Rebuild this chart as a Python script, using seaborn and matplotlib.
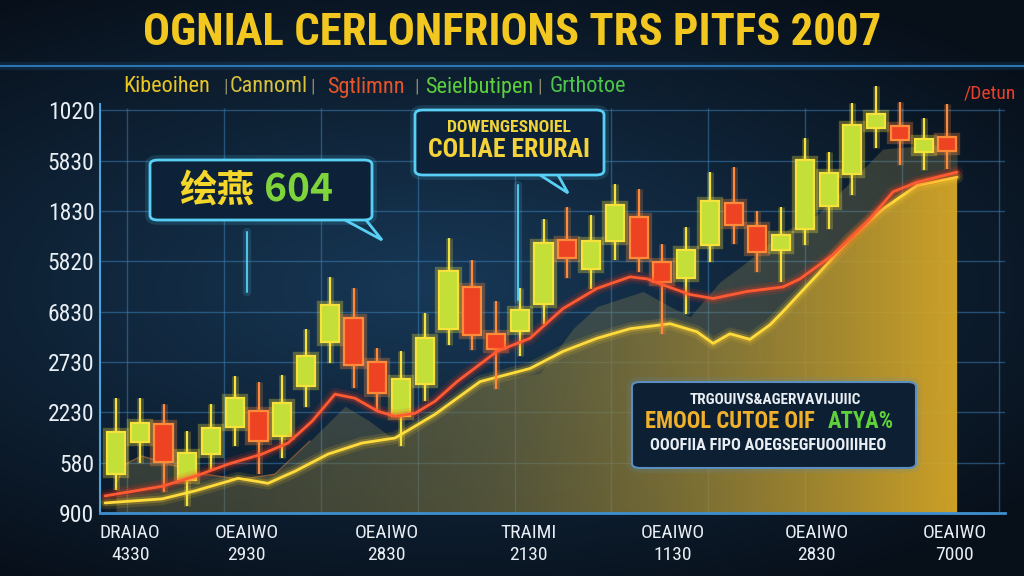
import numpy as np
import pandas as pd
import matplotlib
matplotlib.use("Agg")
import matplotlib.pyplot as plt
import seaborn as sns
from matplotlib import font_manager
from matplotlib.patches import FancyBboxPatch, Polygon
from matplotlib.colors import LinearSegmentedColormap

# candle values (open, high, low, close), one per session
opens  = [77, 141, 176, 65, 117, 170, 202, 152, 253, 339, 388, 299, 192, 257, 366, 449, 356, 362,
          416, 543, 485, 541, 588, 499, 467, 533, 616, 570, 523, 564, 610, 673, 764, 768, 717, 746]
highs  = [228, 228, 216, 162, 216, 273, 261, 275, 366, 469, 446, 327, 321, 398, 546, 503, 422, 446,
          584, 608, 592, 653, 644, 535, 568, 677, 687, 600, 608, 744, 717, 814, 849, 816, 784, 812]
lows   = [46, 99, 42, 14, 85, 133, 77, 109, 210, 297, 248, 202, 133, 222, 333, 323, 246, 311,
          376, 467, 444, 503, 479, 356, 396, 499, 535, 479, 459, 533, 564, 632, 725, 691, 681, 683]
closes = [160, 178, 101, 119, 168, 228, 143, 218, 311, 414, 293, 238, 267, 347, 481, 354, 325, 404,
          537, 507, 541, 612, 507, 459, 523, 620, 572, 519, 552, 701, 675, 770, 792, 741, 743, 719]

# red moving average
ma_x = [-0.46, 1.94, 3.33, 4.72, 6.15, 7.24, 8.25, 9.22, 10.06, 11.03, 11.75, 12.59, 13.43, 14.36,
        16.04, 17.43, 18.82, 20.25, 21.64, 22.36, 23.03, 24.17, 25.14, 26.57, 28.08, 28.8, 30.19,
        31.62, 32.72, 33.73, 35.41]
ma_y = [34, 53, 73, 97, 117, 139, 182, 236, 228, 202, 192, 198, 222, 261, 321, 347, 406, 446, 469,
        465, 453, 434, 426, 440, 449, 465, 513, 578, 638, 657, 677]

# yellow line with golden area
gold_x = [-0.46, 1.94, 3.33, 4.72, 5.14, 6.4, 7.54, 8.93, 10.36, 11.75, 13.43, 15.33, 17.43, 18.82,
          20.25, 21.64, 23.33, 24.46, 25.14, 25.85, 26.69, 27.54, 28.08, 29.52, 30.91, 32.29, 33.73,
          35.41]
gold_y = [20, 28, 44, 63, 69, 59, 83, 117, 139, 149, 196, 261, 287, 321, 347, 366, 376, 360, 337,
          356, 345, 374, 400, 473, 545, 604, 651, 667]

# darker shadow area behind
shade_x = [0, 0.46, 1.09, 2.27, 3.45, 5.22, 6.69, 8.17, 9.64, 10.69, 11.62, 13.43, 15.33, 17.85,
           19.24, 20.25, 22.19, 23.33, 24.17, 25.43, 26.57, 28.08, 29.52, 30.91, 32.29, 34.4, 35.41]
shade_y = [59, 99, 113, 97, 79, 67, 77, 143, 212, 182, 149, 196, 261, 277, 366, 410, 440, 410, 390,
           459, 499, 558, 592, 657, 723, 731, 727]

y_ticks = [0, 100, 200, 300, 400, 500, 600, 700, 800]
y_labels = ["900", "580", "2230", "2730", "6830", "5820", "1830", "5830", "1020"]
x_ticks = [0.6, 5.5, 11.4, 17.35, 23.45, 29.5, 35.3]
x_labels = ["DRAIAO\n4330", "OEAIWO\n2930", "OEAIWO\n2830", "TRAIMI\n2130",
            "OEAIWO\n1130", "OEAIWO\n2830", "OEAIWO\n7000"]
legend_names = ["Kibeoihen", "Cannoml", "Sgtlimnn", "Seielbutipen", "Grthotoe"]
legend_colors = ["#e9c623", "#d8c13c", "#e8552a", "#5ccf3b", "#4cc64a"]

title = "OGNIAL CERLONFRIONS TRS PITFS 2007"

sns.set_theme(style="dark")
installed = {f.name for f in font_manager.fontManager.ttflist}
narrow = next((f for f in ["Liberation Sans Narrow", "Roboto Condensed", "Open Sans Condensed"]
               if f in installed), "DejaVu Sans")
plt.rcParams["font.family"] = [narrow, "DejaVu Sans"]
plt.rcParams["font.stretch"] = "condensed"
CJK = ["Noto Sans CJK SC", "DejaVu Sans"]

W, H = 1024, 576
fig = plt.figure(figsize=(10.24, 5.76), dpi=100)
renderer = fig.canvas.get_renderer()


def fx(px):
    return px / W


def fy(py):
    return 1 - py / H


def fit(t, width_px):
    # shrink/grow a text so it spans the wanted pixel width
    w = t.get_window_extent(renderer).width
    t.set_fontsize(t.get_fontsize() * width_px / w)
    return t


# background glow
bg = fig.add_axes([0, 0, 1, 1], zorder=-10)
yy, xx = np.mgrid[0:1:288j, 0:1:512j]
d = np.sqrt(((xx - 0.42) / 1.0) ** 2 + ((yy - 0.5) / 0.8) ** 2)
d = np.clip(d / 0.75, 0, 1)
c_in = np.array([0.09, 0.22, 0.34])
c_out = np.array([0.03, 0.06, 0.10])
img = c_in[None, None, :] * (1 - d[..., None]) + c_out[None, None, :] * d[..., None]
bg.imshow(img, aspect="auto", extent=[0, 1, 0, 1])
bg.axis("off")

ax = fig.add_axes([fx(100), fy(513), fx(1005) - fx(100), fy(80) - fy(513)])
ax.set_facecolor("none")

# shadow area
ax.fill_between(shade_x, shade_y, 0, color="#8b8250", alpha=0.33, lw=0, zorder=1)
ax.plot(shade_x[:8], shade_y[:8], color="#c8783a", lw=1, alpha=0.6, zorder=1)

# golden gradient area under the yellow line
poly = ax.fill_between(gold_x, gold_y, 0, color="none", lw=0)
gcmap = LinearSegmentedColormap.from_list(
    "gold", [(0.0, (0.30, 0.30, 0.18, 0.10)), (0.45, (0.45, 0.42, 0.22, 0.45)),
             (0.7, (0.62, 0.53, 0.20, 0.70)), (1.0, (0.86, 0.67, 0.15, 0.92))])
grad = ax.imshow(np.linspace(0, 1, 256)[None, :], cmap=gcmap, aspect="auto",
                 extent=[-0.5, 35.5, 0, 700], origin="lower", zorder=2)
grad.set_clip_path(poly.get_paths()[0], transform=ax.transData)

# grid
grid_x = np.arange(0.46, 37.5, 4.08)
ax.vlines(grid_x, 0, 805, color="#3a7cb0", lw=1, alpha=0.55, zorder=0)
ax.grid(True, axis="y", color="#3a7cb0", lw=1, alpha=0.55)
ax.set_axisbelow(True)

# candles
df = pd.DataFrame({"open": opens, "high": highs, "low": lows, "close": closes})
df["idx"] = np.arange(len(df))
df["up"] = df["close"] >= df["open"]
fill = np.where(df["up"], "#c3df38", "#ee4322")
edge = np.where(df["up"], "#f6e23a", "#ff8a3a")
bottom = df[["open", "close"]].min(axis=1)
height = (df["close"] - df["open"]).abs()

ax.vlines(df["idx"], df["low"], df["high"], colors=edge, lw=5, alpha=0.22, zorder=4)
ax.vlines(df["idx"], df["low"], df["high"], colors=edge, lw=1.6, zorder=5)
ax.bar(df["idx"], height, bottom=bottom, width=0.76, color="none", edgecolor=edge,
       linewidth=6, alpha=0.3, zorder=5)
ax.bar(df["idx"], height, bottom=bottom, width=0.76, color=fill, edgecolor=edge,
       linewidth=1.6, zorder=6)

# lines with glow
for w, a in [(9, 0.12), (5, 0.25)]:
    ax.plot(gold_x, gold_y, color="#ffcf2a", lw=w, alpha=a, zorder=3, solid_capstyle="round")
    ax.plot(ma_x, ma_y, color="#ff3a1c", lw=w, alpha=a, zorder=7, solid_capstyle="round")
sns.lineplot(x=gold_x, y=gold_y, ax=ax, color="#ffdc3c", lw=2, zorder=3, sort=False)
sns.lineplot(x=ma_x, y=ma_y, ax=ax, color="#ff5a32", lw=2, zorder=7, sort=False)

# axes styling
ax.set_xlim(-0.674, 37.43)
ax.set_ylim(0, 860)
ax.set_xlabel("")
ax.set_ylabel("")
ax.set_yticks(y_ticks, y_labels)
ax.set_xticks(x_ticks, x_labels)
ax.tick_params(axis="y", length=0, pad=4, labelcolor="#e8eef4", labelsize=17)
ax.tick_params(axis="x", direction="in", length=14, width=1, color="#4a9fd8", pad=8,
               labelcolor="#e8eef4", labelsize=14)
for lab in ax.get_xticklabels():
    lab.set_linespacing(1.25)
for s in ["top", "right"]:
    ax.spines[s].set_visible(False)
ax.spines["left"].set_color("#4aa3dc")
ax.spines["left"].set_linewidth(1.5)
ax.spines["left"].set_bounds(0, 812)
ax.spines["bottom"].set_color("#3d8fd0")
ax.spines["bottom"].set_linewidth(2)

# title and separator
t = fig.text(0.5, fy(33), title, ha="center", va="center", color="#f2c71f", fontsize=30,
             fontweight="bold")
fit(t, 737)
for w, a in [(6, 0.15), (1.5, 0.9)]:
    fig.add_artist(plt.Line2D([0, 1], [fy(66), fy(66)], color="#2f7fc0", lw=w, alpha=a))

# series names row
name_span = [(118, 215), (237, 300), (326, 405), (428, 530), (550, 625)]
for i, (nm, col) in enumerate(zip(legend_names, legend_colors)):
    x0, x1 = name_span[i]
    fig.text(fx((x0 + x1) / 2), fy(87), nm, ha="center", va="center", color=col,
             fontsize=16)
    if i < len(legend_names) - 1:
        fig.text(fx((x1 + name_span[i + 1][0]) / 2), fy(87), "|", ha="center",
                 va="center", color="#8a8a6a", fontsize=14)
fig.text(fx(990), fy(94), "/Detun", ha="center", va="center", color="#e8402a", fontsize=14)


def callout(x0, y0, x1, y1, tail=None, ec="#58d0f5", fc=(0.05, 0.13, 0.22, 0.75), lw=2):
    for w, a in [(7, 0.15), (lw, 1)]:
        fig.add_artist(FancyBboxPatch((fx(x0), fy(y1)), fx(x1) - fx(x0), fy(y0) - fy(y1),
                                      boxstyle="round,pad=0,rounding_size=0.008",
                                      transform=fig.transFigure, ec=ec, lw=w, alpha=a,
                                      fc=fc if a == 1 else "none", zorder=20))
    if tail is not None:
        pts = [(fx(px), fy(py)) for px, py in tail]
        fig.add_artist(Polygon(pts, closed=False, transform=fig.transFigure, fill=False,
                               ec=ec, lw=lw, zorder=21))


def glow_vline(px, py0, py1):
    for w, a in [(6, 0.15), (1.5, 0.9)]:
        fig.add_artist(plt.Line2D([fx(px), fx(px)], [fy(py0), fy(py1)], color="#58d0f5",
                                  lw=w, alpha=a, zorder=19))


# callout 1
glow_vline(247, 232, 292)
callout(150, 160, 372, 220, tail=[(345, 220), (382, 240), (366, 220)])
fig.text(fx(217), fy(190), "绘燕", ha="center", va="center", color="#f4d72a", fontsize=27,
         fontweight="bold", family=CJK, zorder=22)
fig.text(fx(298), fy(190), "604", ha="center", va="center", color="#7ed43a", fontsize=28,
         fontweight="bold", family=CJK, zorder=22)

# callout 2
glow_vline(518, 185, 300)
callout(415, 110, 604, 175, tail=[(540, 175), (568, 193), (558, 175)])
t = fig.text(fx(509), fy(127), "DOWENGESNOIEL", ha="center", va="center", color="#f0d43a",
             fontsize=10, fontweight="bold", zorder=22)
fit(t, 123)
t = fig.text(fx(509), fy(150), "COLIAE ERURAI", ha="center", va="center", color="#f3d23a",
             fontsize=18, fontweight="bold", zorder=22)
fit(t, 162)

# callout 3
callout(632, 382, 916, 468, ec="#5a8fc0", fc=(0.05, 0.12, 0.2, 0.8), lw=1.5)
t = fig.text(fx(775), fy(400), "TRGOUIVS&AGERVAVIJUIIC", ha="center", va="center",
             color="#e8eef4", fontsize=10, fontweight="bold", zorder=22)
fit(t, 170)
t1 = fig.text(fx(815), fy(421), "EMOOL CUTOE OIF", ha="right", va="center", color="#efb02c",
              fontsize=16, fontweight="bold", zorder=22)
fit(t1, 170)
t2 = fig.text(fx(828), fy(421), "ATYA%", ha="left", va="center", color="#5fd23a",
              fontsize=t1.get_fontsize(), fontweight="bold", zorder=22)
t = fig.text(fx(768), fy(446), "OOOFIIA FIPO AOEGSEGFUOOIIIHEO", ha="center", va="center",
             color="#e8eef4", fontsize=10, fontweight="bold", zorder=22)
fit(t, 235)

fig.savefig("out.png", dpi=100)
